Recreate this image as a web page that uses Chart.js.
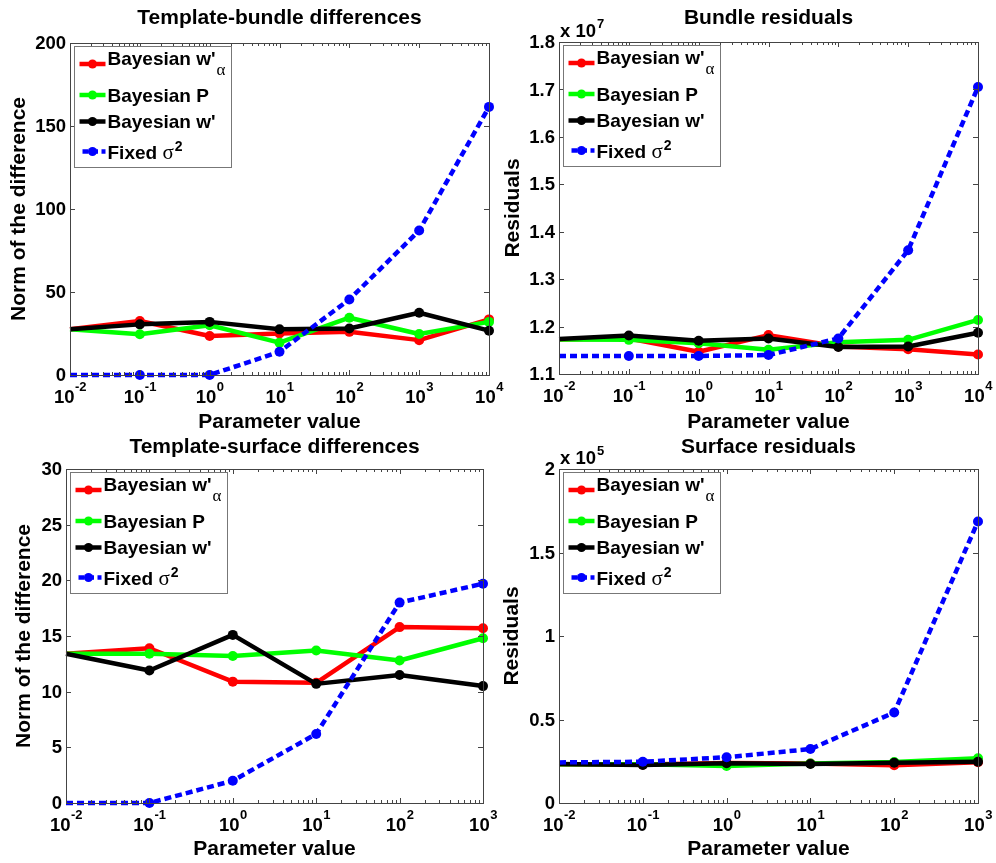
<!DOCTYPE html>
<html>
<head>
<meta charset="utf-8">
<script src="https://cdn.jsdelivr.net/npm/chart.js@4.4.1/dist/chart.umd.min.js"></script>
<style>
  html, body { margin: 0; padding: 0; background: #fff; }
  #wrap { position: relative; width: 996px; height: 863px; }
  #wrap canvas { position: absolute; left: 0; top: 0; }
</style>
</head>
<body>
<div id="wrap">
  <canvas id="c1" width="996" height="863"></canvas>
  <canvas id="c2" width="996" height="863"></canvas>
  <canvas id="c3" width="996" height="863"></canvas>
  <canvas id="c4" width="996" height="863"></canvas>
</div>
<script>
// --- data ---
const paramTop = [0.01, 0.1, 1, 10, 100, 1000, 10000];
const paramBottom = [0.01, 0.1, 1, 10, 100, 1000];

// Template-bundle differences
const bundleDiffWa = [27.5, 32.5, 23.5, 25, 26, 21, 33.5];
const bundleDiffP = [27.5, 24.5, 30, 19.5, 34.5, 24.7, 32];
const bundleDiffW = [27.5, 30.5, 32, 27.5, 28, 37.5, 26.7];
const bundleDiffFixed = [0, 0, 0, 14, 45.5, 87, 161.5];

// Bundle residuals
const bundleResWa = [1.173e7, 1.175e7, 1.147e7, 1.182e7, 1.158e7, 1.152e7, 1.141e7];
const bundleResP = [1.173e7, 1.172e7, 1.165e7, 1.151e7, 1.167e7, 1.172e7, 1.214e7];
const bundleResW = [1.174e7, 1.181e7, 1.170e7, 1.175e7, 1.157e7, 1.158e7, 1.187e7];
const bundleResFixed = [1.138e7, 1.138e7, 1.138e7, 1.140e7, 1.175e7, 1.361e7, 1.705e7];

// Template-surface differences
const surfDiffWa = [13.4, 13.9, 10.9, 10.8, 15.8, 15.7];
const surfDiffP = [13.4, 13.4, 13.2, 13.7, 12.8, 14.8];
const surfDiffW = [13.4, 11.9, 15.1, 10.7, 11.5, 10.5];
const surfDiffFixed = [0, 0, 2.0, 6.2, 18.0, 19.7];

// Surface residuals
const surfResWa = [0.232e5, 0.230e5, 0.240e5, 0.236e5, 0.226e5, 0.244e5];
const surfResP = [0.232e5, 0.232e5, 0.222e5, 0.236e5, 0.245e5, 0.268e5];
const surfResW = [0.234e5, 0.228e5, 0.238e5, 0.234e5, 0.241e5, 0.247e5];
const surfResFixed = [0.243e5, 0.247e5, 0.274e5, 0.323e5, 0.542e5, 1.686e5];

const W = 996, H = 863;
const SANS = '"Liberation Sans", Arial, Helvetica, sans-serif';
const SERIF = '"Liberation Serif", "DejaVu Serif", serif';
const colors = ['#ff0000', '#00ff00', '#000000', '#0000ff'];

// legend entries (main text + optional sub/superscript)
const legendItems = [
    { text: "Bayesian w'", sub: '\u03b1' },
    { text: 'Bayesian P' },
    { text: "Bayesian w'" },
    { text: 'Fixed ', greek: '\u03c3', sup: '2' }
];

// --- panel layout ---
const panels = [
    { id: 'c1', L: 70, T: 43, R: 489, B: 375, x: paramTop, xMax: 1e4,
      series: [bundleDiffWa, bundleDiffP, bundleDiffW, bundleDiffFixed],
      yMin: 0, yMax: 200, yStep: 50, yDiv: 1, mult: null,
      title: 'Template-bundle differences', titleY: 24,
      ylabel: 'Norm of the difference', ylabelX: 25, xlabelY: 428 },
    { id: 'c2', L: 559, T: 42, R: 978, B: 374, x: paramTop, xMax: 1e4,
      series: [bundleResWa, bundleResP, bundleResW, bundleResFixed],
      yMin: 1.1e7, yMax: 1.8e7, yStep: 1e6, yDiv: 1e7, mult: '7',
      title: 'Bundle residuals', titleY: 24,
      ylabel: 'Residuals', ylabelX: 519, xlabelY: 428 },
    { id: 'c3', L: 66, T: 469, R: 483, B: 803, x: paramBottom, xMax: 1e3,
      series: [surfDiffWa, surfDiffP, surfDiffW, surfDiffFixed],
      yMin: 0, yMax: 30, yStep: 5, yDiv: 1, mult: null,
      title: 'Template-surface differences', titleY: 453,
      ylabel: 'Norm of the difference', ylabelX: 30, xlabelY: 855 },
    { id: 'c4', L: 559, T: 469, R: 978, B: 803, x: paramBottom, xMax: 1e3,
      series: [surfResWa, surfResP, surfResW, surfResFixed],
      yMin: 0, yMax: 2e5, yStep: 0.5e5, yDiv: 1e5, mult: '5',
      title: 'Surface residuals', titleY: 453,
      ylabel: 'Residuals', ylabelX: 518, xlabelY: 855 }
];

function text(ctx, s, x, y, font, align) {
    ctx.font = font;
    ctx.textAlign = align || 'left';
    ctx.textBaseline = 'alphabetic';
    ctx.fillText(s, x, y);
    return ctx.measureText(s).width;
}

function drawLegend(ctx, p) {
    const bx = Math.round(p.L + 4) + 0.5, by = Math.round(p.T + 3) + 0.5;
    const bw = 157, bh = 121;
    ctx.fillStyle = '#fff';
    ctx.fillRect(bx, by, bw, bh);
    ctx.strokeStyle = '#777';
    ctx.lineWidth = 1;
    ctx.setLineDash([]);
    ctx.strokeRect(bx, by, bw, bh);

    const lineY = [17.5, 48.5, 75, 105];
    const baseY = [18.5, 55, 81.5, 112];
    const font = 'bold 19px ' + SANS;
    legendItems.forEach((it, i) => {
        const c = colors[i];
        const ly = by + lineY[i];
        ctx.strokeStyle = c;
        ctx.lineWidth = 4.5;
        ctx.lineCap = 'butt';
        ctx.setLineDash(i === 3 ? [6, 3.5] : []);
        ctx.beginPath();
        ctx.moveTo(bx + (i === 3 ? 8 : 5), ly);
        ctx.lineTo(bx + 31, ly);
        ctx.stroke();
        ctx.setLineDash([]);
        ctx.fillStyle = c;
        ctx.beginPath();
        ctx.arc(bx + 18, ly, 4.5, 0, Math.PI * 2);
        ctx.fill();

        ctx.fillStyle = '#000';
        let tx = bx + 33;
        const ty = by + baseY[i];
        tx += text(ctx, it.text, tx, ty, font);
        if (it.sub) {
            text(ctx, it.sub, tx + 1, by + 28, '17px ' + SERIF);
        }
        if (it.greek) {
            tx += text(ctx, it.greek, tx, ty, '21px ' + SERIF);
        }
        if (it.sup) {
            text(ctx, it.sup, tx + 1, by + 104.5, 'bold 14px ' + SANS);
        }
    });
}

function decoPlugin(p) {
    return {
        id: 'deco_' + p.id,
        afterDraw(chart) {
            const ctx = chart.ctx;
            const xs = chart.scales.x, ys = chart.scales.y;
            ctx.save();

            // axes box
            ctx.strokeStyle = '#444';
            ctx.lineWidth = 1;
            ctx.setLineDash([]);
            ctx.strokeRect(p.L + 0.5, p.T + 0.5, p.R - p.L, p.B - p.T);

            // x ticks (inward, top and bottom) + labels
            ctx.beginPath();
            for (let d = 0.01; d <= p.xMax * 1.0001; d *= 10) {
                const px = Math.round(xs.getPixelForValue(d)) + 0.5;
                ctx.moveTo(px, p.B); ctx.lineTo(px, p.B - 5);
                ctx.moveTo(px, p.T); ctx.lineTo(px, p.T + 5);
                if (d < p.xMax * 0.999) {
                    for (let k = 2; k <= 9; k++) {
                        const mx = Math.round(xs.getPixelForValue(d * k)) + 0.5;
                        ctx.moveTo(mx, p.B); ctx.lineTo(mx, p.B - 3);
                        ctx.moveTo(mx, p.T); ctx.lineTo(mx, p.T + 3);
                    }
                }
            }
            // y ticks (inward, left and right)
            const n = Math.round((p.yMax - p.yMin) / p.yStep);
            for (let i = 0; i <= n; i++) {
                const py = Math.round(ys.getPixelForValue(p.yMin + i * p.yStep)) + 0.5;
                ctx.moveTo(p.L, py); ctx.lineTo(p.L + 5, py);
                ctx.moveTo(p.R, py); ctx.lineTo(p.R - 5, py);
            }
            ctx.stroke();

            ctx.fillStyle = '#000';
            const tickFont = 'bold 18.5px ' + SANS;
            const expFont = 'bold 13px ' + SANS;
            for (let d = 0.01; d <= p.xMax * 1.0001; d *= 10) {
                const px = xs.getPixelForValue(d);
                const e = String(Math.round(Math.log10(d)));
                ctx.font = tickFont;
                const w10 = ctx.measureText('10').width;
                ctx.font = expFont;
                const we = ctx.measureText(e).width;
                const x0 = px - (w10 + we) / 2;
                text(ctx, '10', x0, p.B + 28, tickFont);
                text(ctx, e, x0 + w10 + 0.5, p.B + 16, expFont);
            }
            for (let i = 0; i <= n; i++) {
                const v = p.yMin + i * p.yStep;
                const py = ys.getPixelForValue(v);
                const lab = String(+(v / p.yDiv).toFixed(2));
                ctx.font = tickFont;
                ctx.textAlign = 'right';
                ctx.textBaseline = 'middle';
                ctx.fillText(lab, p.L - 4, py + 1);
            }

            // exponent multiplier
            if (p.mult) {
                const w = text(ctx, 'x 10', p.L + 1, p.T - 5, tickFont);
                text(ctx, p.mult, p.L + 2 + w, p.T - 14, expFont);
            }

            // title and axis labels
            const labFont = 'bold 21px ' + SANS;
            const cx = (p.L + p.R) / 2;
            text(ctx, p.title, cx, p.titleY, labFont, 'center');
            text(ctx, 'Parameter value', cx, p.xlabelY, labFont, 'center');
            ctx.save();
            ctx.translate(p.ylabelX, (p.T + p.B) / 2);
            ctx.rotate(-Math.PI / 2);
            text(ctx, p.ylabel, 0, 0, labFont, 'center');
            ctx.restore();

            drawLegend(ctx, p);
            ctx.restore();
        }
    };
}

function makeSet(i, xs, ys) {
    const c = colors[i];
    return {
        label: legendItems[i].text,
        data: xs.map((x, k) => ({ x: x, y: ys[k] })),
        borderColor: c,
        backgroundColor: c,
        borderWidth: 4.5,
        borderDash: i === 3 ? [7, 4] : [],
        borderJoinStyle: 'round',
        pointRadius: ctx => ctx.dataIndex === 0 ? 0 : 5,
        pointBorderWidth: 0,
        pointBackgroundColor: c,
        tension: 0,
        clip: false,
        order: 3 - i
    };
}

panels.forEach(p => {
    new Chart(document.getElementById(p.id), {
        type: 'line',
        data: {
            datasets: p.series.map((s, i) => makeSet(i, p.x, s))
        },
        options: {
            responsive: false,
            animation: false,
            devicePixelRatio: 1,
            events: [],
            layout: { padding: { left: p.L, top: p.T, right: W - p.R, bottom: H - p.B } },
            plugins: {
                legend: { display: false },
                tooltip: { enabled: false },
                title: { display: false }
            },
            scales: {
                x: { type: 'logarithmic', min: 0.01, max: p.xMax, display: false },
                y: { type: 'linear', min: p.yMin, max: p.yMax, display: false }
            }
        },
        plugins: [decoPlugin(p)]
    });
});
</script>
</body>
</html>
